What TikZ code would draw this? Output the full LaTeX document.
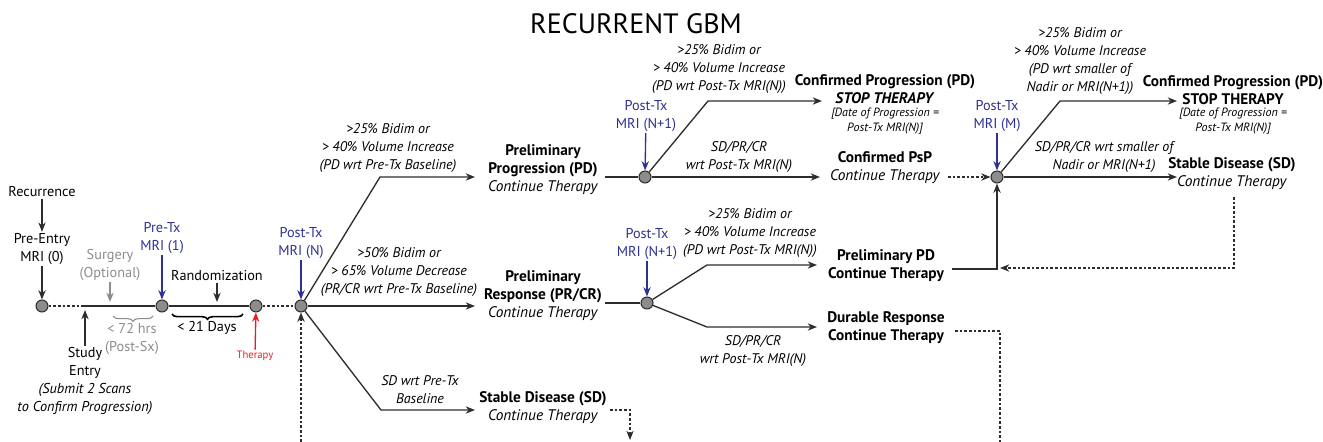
\documentclass[tikz,border=0pt]{standalone}
\usepackage{fontspec}
\setmainfont{PT Sans}
\usetikzlibrary{arrows.meta,decorations.pathreplacing}

\definecolor{mriblue}{RGB}{46,49,146}
\definecolor{txred}{RGB}{237,28,36}
\definecolor{sxgray}{RGB}{140,140,140}
\definecolor{linegray}{RGB}{45,45,45}

\begin{document}
\begin{tikzpicture}[x=0.75pt,y=-0.75pt,
    every node/.style={font=\fontsize{10.7}{13.5}\selectfont,inner sep=1pt},
    scan/.style={circle,draw=linegray,fill=black!45,line width=0.8pt,minimum size=9pt,inner sep=0pt},
    lbl/.style={align=center,font=\fontsize{10.5}{13.5}\selectfont\itshape},
    note/.style={align=center,font=\fontsize{9}{11.5}\selectfont\itshape},
    outcome/.style={align=center,font=\fontsize{11.5}{13.5}\selectfont},
    mri/.style={align=center,text=mriblue},
    flow/.style={draw=linegray,line width=1pt},
    arr/.style={flow,-{Stealth[length=7pt,width=5.5pt]}},
    dots/.style={draw=linegray,line width=0.8pt,dash pattern=on 2pt off 1.5pt},
    darr/.style={dots,-{Stealth[length=7pt,width=5.5pt]}}]
    \useasboundingbox (0,0) rectangle (1323,442);

    %%%%% TIMELINE %%%%%
    \node (title) at (636,24) {\fontsize{21}{25}\selectfont RECURRENT GBM};

    \node (recur) at (42,192) {Recurrence};
    \node[align=center] (preentry) at (42,249) {Pre-Entry\\MRI (0)};
    \node[scan] (c0) at (42,306) {};
    \node[align=center,text=sxgray] (surg) at (110,265) {Surgery\\(Optional)};
    \node[mri] (pretx) at (162,238) {Pre-Tx\\MRI (1)};
    \node[scan] (c1) at (162,306) {};
    \node (rand) at (217,276) {Randomization};
    \node[scan] (c2) at (256,306) {};
    \node[mri] (posttx) at (301,243) {Post-Tx\\MRI (N)};
    \node[scan] (c3) at (301,306) {};
    \coordinate (entrypt) at (84,306);
    \node[align=center] (entry) at (85,381) {Study\\Entry\\\textit{(Submit 2 Scans}\\\textit{to Confirm Progression)}};
    \node[align=center,text=sxgray] (hrs) at (132,339) {< 72 hrs\\(Post-Sx)};
    \node (days) at (207,328) {< 21 Days};
    \node[text=txred,font=\fontsize{8}{10}\selectfont] (ther) at (255,356) {Therapy};
    \coordinate (loopin) at (301,442);

    \draw[dots] (c0) -- (entrypt);
    \draw[flow] (entrypt) -- (c1) -- (c2);
    \draw[dots] (c2) -- (c3);

    \draw[arr] (recur) -- (preentry);
    \draw[arr] (preentry) -- (c0);
    \draw[arr,draw=sxgray,shorten >=3pt] (surg) -- (surg |- c0);
    \draw[arr,draw=mriblue] (pretx) -- (c1);
    \draw[arr,shorten >=3pt] (rand) -- (rand |- c1);
    \draw[arr,draw=mriblue] (posttx) -- (c3);
    \draw[arr,shorten >=3pt] (entry) -- (entry |- c0);
    \draw[arr,draw=txred] (ther) -- (c2);
    \draw[darr] (loopin) -- (c3);

    \draw[decorate,decoration={brace,amplitude=4pt,mirror},draw=sxgray,line width=0.8pt] (113,316) -- (153,316);
    \draw[decorate,decoration={brace,amplitude=4pt,mirror},draw=black,line width=1.2pt] (172,314) -- (243,314);

    %%%%% FIRST SCAN %%%%%
    \coordinate (b1) at (380,177);
    \coordinate (b1e) at (475,177);
    \coordinate (b2e) at (475,306);
    \coordinate (b3) at (381,410);
    \coordinate (b3e) at (475,410);
    \draw[arr] (c3) -- (b1) -- (b1e);
    \draw[arr] (c3) -- (b2e);
    \draw[arr] (c3) -- (b3) -- (b3e);

    \node[lbl] (l1a) at (388,148) {>25\% Bidim or\\> 40\% Volume Increase\\(PD wrt Pre-Tx Baseline)};
    \node[lbl] (l1b) at (399,272) {>50\% Bidim or\\> 65\% Volume Decrease\\(PR/CR wrt Pre-Tx Baseline)};
    \node[lbl] (l1c) at (420,390) {SD wrt Pre-Tx\\Baseline};

    \node[outcome] (pp) at (543,170) {\textbf{Preliminary}\\\textbf{Progression (PD)}\\\textit{Continue Therapy}};
    \node[outcome] (pr) at (543,296) {\textbf{Preliminary}\\\textbf{Response (PR/CR)}\\\textit{Continue Therapy}};
    \node[outcome] (sd) at (543,408) {\textbf{Stable Disease (SD)}\\\textit{Continue Therapy}};

    \coordinate (sdout) at (610,410);
    \coordinate (sdturn) at (630,410);
    \coordinate (sddown) at (630,440);
    \draw[darr] (sdout) -- (sdturn) -- (sddown);

    %%%%% SECOND SCAN, PROGRESSION %%%%%
    \coordinate (ppout) at (605,177);
    \node[scan] (c4) at (645,177) {};
    \node[mri] (post4) at (646,116) {Post-Tx\\MRI (N+1)};
    \draw[flow] (ppout) -- (c4);
    \draw[arr,draw=mriblue] (post4) -- (c4);

    \coordinate (b4) at (708,101);
    \coordinate (b4e) at (822,101);
    \coordinate (b4f) at (820,177);
    \draw[arr] (c4) -- (b4) -- (b4e);
    \draw[arr] (c4) -- (b4f);

    \node[lbl] (l4a) at (719,69) {>25\% Bidim or\\> 40\% Volume Increase\\(PD wrt Post-Tx MRI(N))};
    \node[lbl] (l4b) at (739,157) {SD/PR/CR\\wrt Post-Tx MRI(N)};

    \node[outcome] (cp1) at (885,89) {\textbf{Confirmed Progression (PD)}\\\textbf{\textit{STOP THERAPY}}};
    \node[note] (d1) at (885,121) {[Date of Progression =\\Post-Tx MRI(N)]};
    \node[outcome] (psp) at (885,168) {\textbf{Confirmed PsP}\\\textit{Continue Therapy}};

    %%%%% SECOND SCAN, RESPONSE %%%%%
    \coordinate (prout) at (605,303);
    \node[scan] (c6) at (647,303) {};
    \node[mri] (post6) at (647,244) {Post-Tx\\MRI (N+1)};
    \draw[flow] (prout) -- (c6);
    \draw[arr,draw=mriblue] (post6) -- (c6);

    \coordinate (b6) at (707,265);
    \coordinate (b6e) at (817,265);
    \coordinate (b7) at (707,327);
    \coordinate (b7e) at (817,327);
    \draw[arr] (c6) -- (b6) -- (b6e);
    \draw[arr] (c6) -- (b7) -- (b7e);

    \node[lbl] (l6a) at (750,233) {>25\% Bidim or\\> 40\% Volume Increase\\(PD wrt Post-Tx MRI(N))};
    \node[lbl] (l6b) at (753,351) {SD/PR/CR\\wrt Post-Tx MRI(N)};

    \node[outcome,font=\fontsize{11.5}{13.5}\selectfont\bfseries] (ppd) at (886,266) {Preliminary PD\\Continue Therapy};
    \node[outcome,font=\fontsize{11.5}{13.5}\selectfont\bfseries] (dr) at (886,328) {Durable Response\\Continue Therapy};

    \coordinate (drout) at (955,331);
    \coordinate (drturn) at (1000,331);
    \coordinate (drdown) at (1000,442);
    \draw[dots] (drout) -- (drturn) -- (drdown);

    %%%%% THIRD SCAN %%%%%
    \coordinate (pspout) at (948,177);
    \node[scan] (c5) at (997,177) {};
    \node[mri] (post5) at (997,116) {Post-Tx\\MRI (M)};
    \draw[darr] (pspout) -- (c5);
    \draw[arr,draw=mriblue] (post5) -- (c5);

    \coordinate (ppdout) at (952,269);
    \coordinate (join) at (997,269);
    \draw[arr] (ppdout) -- (join) -- (c5);

    \coordinate (b5) at (1060,101);
    \coordinate (b5e) at (1177,101);
    \coordinate (b5f) at (1177,177);
    \draw[arr] (c5) -- (b5) -- (b5e);
    \draw[arr] (c5) -- (b5f);

    \node[lbl] (l5a) at (1080,61) {>25\% Bidim or\\> 40\% Volume Increase\\(PD wrt smaller of\\Nadir or MRI(N+1))};
    \node[lbl] (l5b) at (1104,157) {SD/PR/CR wrt smaller of\\Nadir or MRI(N+1)};

    \node[outcome,font=\fontsize{11.5}{13.5}\selectfont\bfseries] (cp2) at (1233,90) {Confirmed Progression (PD)\\STOP THERAPY};
    \node[note] (d2) at (1233,121) {[Date of Progression =\\Post-Tx MRI(N)]};
    \node[outcome] (sd2) at (1232,174) {\textbf{Stable Disease (SD)}\\\textit{Continue Therapy}};

    \coordinate (sd2out) at (1234,197);
    \coordinate (sd2turn) at (1234,268);
    \coordinate (sd2back) at (1000,268);
    \draw[darr] (sd2out) -- (sd2turn) -- (sd2back);
\end{tikzpicture}
\end{document}
